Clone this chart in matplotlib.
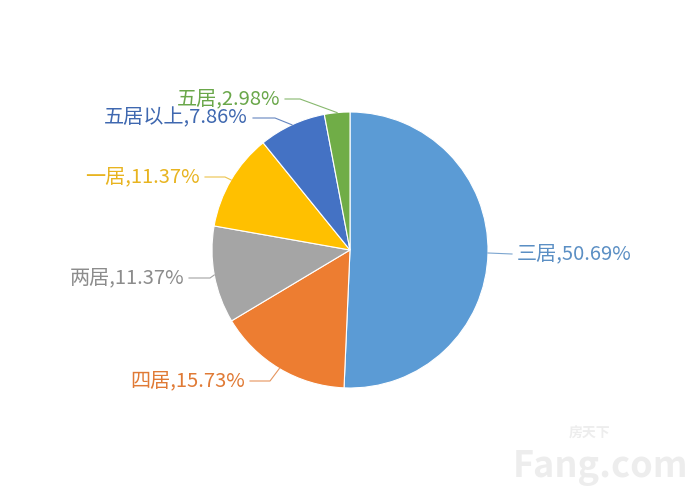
import numpy as np
import matplotlib.pyplot as plt

plt.rcParams['font.family'] = ['Noto Sans CJK SC', 'DejaVu Sans']

categories = ['三居', '四居', '两居', '一居', '五居以上', '五居']
shares = [50.69, 15.73, 11.37, 11.37, 7.86, 2.98]
colors = ['#5B9BD5', '#ED7D31', '#A5A5A5', '#FFC000', '#4472C4', '#70AD47']
text_colors = ['#5B8FC4', '#E07A35', '#8C8C8C', '#E8B420', '#3F68B0', '#6AA74A']

# label layout in image pixels: (text x, text y, elbow x, side)
label_pos = [(517, 254, 512, 'left'),
             (245, 381, 270, 'right'),
             (184, 278, 210, 'right'),
             (200, 177, 225, 'right'),
             (248, 118, 275, 'right'),
             (280, 99, 300, 'right')]

W, H = 700, 500
cx, cy, r = 350, 250, 138

fig = plt.figure(figsize=(7, 5), dpi=100)
ax = fig.add_axes([0, 0, 1, 1])

wedges, _ = ax.pie(shares, colors=colors, startangle=90, counterclock=False,
                   center=(cx, H - cy), radius=r,
                   wedgeprops=dict(edgecolor='white', linewidth=0.8))
ax.set_xlim(0, W)
ax.set_ylim(0, H)
ax.set_aspect('equal')
ax.axis('off')

for w, cat, val, tc, (tx, ty, ex, side) in zip(wedges, categories, shares, text_colors, label_pos):
    ang = np.deg2rad((w.theta1 + w.theta2) / 2)
    px = cx + r * np.cos(ang)
    py = (H - cy) + r * np.sin(ang)
    ty_d = H - ty
    if side == 'left':
        ax.plot([px, ex], [py, ty_d], color=tc, lw=0.8, alpha=0.8)
        ax.text(tx, ty_d, f'{cat},{val:.2f}%', ha='left', va='center',
                fontsize=14.5, color=tc)
    else:
        ax.plot([px, ex, tx + 5], [py, ty_d, ty_d], color=tc, lw=0.8, alpha=0.8)
        ax.text(tx, ty_d, f'{cat},{val:.2f}%', ha='right', va='center',
                fontsize=14.5, color=tc)

# faint watermark
ax.text(600, H - 468, 'Fang.com', ha='center', va='center', fontsize=26,
        fontweight='bold', color='#EDEDED', style='italic')
ax.text(590, H - 434, '房天下', ha='center', va='center', fontsize=10,
        fontweight='bold', color='#EDEDED')

fig.savefig('out.png', dpi=100)
